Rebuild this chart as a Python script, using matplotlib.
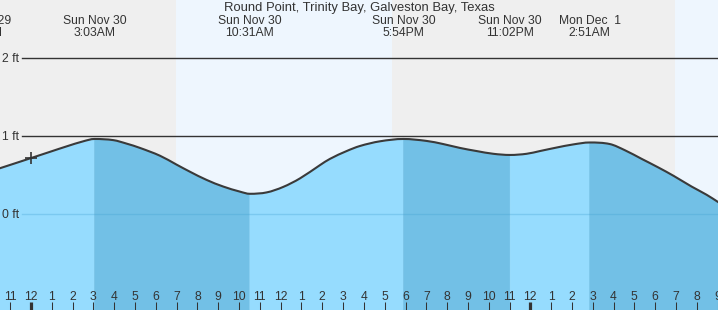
import numpy as np
import matplotlib
matplotlib.use("Agg")
import matplotlib.pyplot as plt
import matplotlib.transforms as mtransforms
from matplotlib.path import Path
from matplotlib.patches import PathPatch

plt.rcParams['font.family'] = ['Liberation Sans', 'DejaVu Sans']

# ---- data (hours since midnight, Sun Nov 30) ----
tide_hours = [-1.55, -0.8, 0.0, 0.91, 1.71, 2.51, 3.05, 3.96, 4.6, 5.24, 6.2, 6.97,
              7.64, 8.44, 9.24, 10.04, 10.52, 11.33, 12.12, 12.93, 13.89, 14.37,
              15.17, 15.81, 16.77, 17.9, 19.01, 19.81, 20.62, 21.42, 22.22, 23.03,
              23.82, 24.46, 25.26, 26.06, 26.85, 27.82, 28.55, 29.35, 30.15, 30.9,
              31.75, 32.47, 33.05]
tide_ft = [0.585, 0.65, 0.72, 0.80, 0.87, 0.935, 0.965, 0.95, 0.905, 0.85, 0.75, 0.64,
           0.545, 0.44, 0.355, 0.29, 0.262, 0.28, 0.35, 0.46, 0.63, 0.71,
           0.81, 0.875, 0.935, 0.965, 0.94, 0.90, 0.85, 0.81, 0.775, 0.76,
           0.775, 0.81, 0.855, 0.895, 0.92, 0.90, 0.82, 0.71, 0.60, 0.49,
           0.355, 0.25, 0.152]

extreme_hours = [-2.4, 3.05, 10.52, 17.9, 23.03, 26.85]
extreme_dates = ["Sat Nov 29", "Sun Nov 30", "Sun Nov 30", "Sun Nov 30", "Sun Nov 30", "Mon Dec  1"]
extreme_times = ["9:36PM", "3:03AM", "10:31AM", "5:54PM", "11:02PM", "2:51AM"]

daylight = [(6.97, 17.35), (30.95, 34.0)]
now_hour = 0.0
now_ft = 0.72

y_levels = [0, 1, 2]
y_labels = ["0 ft", "1 ft", "2 ft"]

tick_hours = list(range(-1, 34))
title = "Round Point, Trinity Bay, Galveston Bay, Texas"

# ---- style ----
W, H = 718, 310
GRAY_BG = '#efefef'
DAY_BG = '#eef6fe'
LIGHT = '#96dcfe'
DARK = '#72c0e6'
TXT = '#333333'
FS = 8.7

fig = plt.figure(figsize=(W / 100, H / 100), dpi=100)
ax = fig.add_axes([0, 0, 1, 1])
x0, x1 = -1.49, 33.02
y0, y1 = -1.228, 2.747
ax.set_xlim(x0, x1)
ax.set_ylim(y0, y1)
ax.set_facecolor(GRAY_BG)
for s in ax.spines.values():
    s.set_visible(False)

for a, b in daylight:
    ax.axvspan(a, b, color=DAY_BG, lw=0, zorder=0)

t = np.array(tide_hours)
v = np.array(tide_ft)
n = len(t)

# tangents for a smooth (Hermite) rendering through the read points
m = np.zeros(n)
for i in range(n):
    if i == 0:
        m[i] = (v[1] - v[0]) / (t[1] - t[0])
    elif i == n - 1:
        m[i] = (v[-1] - v[-2]) / (t[-1] - t[-2])
    else:
        m[i] = (v[i + 1] - v[i - 1]) / (t[i + 1] - t[i - 1])
    if any(abs(t[i] - e) < 1e-9 for e in extreme_hours):
        m[i] = 0.0


def curve_verts(ia, ib):
    verts = [(t[ia], v[ia])]
    codes = [Path.MOVETO]
    for i in range(ia, ib):
        dt = t[i + 1] - t[i]
        verts += [(t[i] + dt / 3, v[i] + m[i] * dt / 3),
                  (t[i + 1] - dt / 3, v[i + 1] - m[i + 1] * dt / 3),
                  (t[i + 1], v[i + 1])]
        codes += [Path.CURVE4] * 3
    return verts, codes


# fill segments between extremes: rising = light, falling = dark
idx_bounds = [0] + [int(np.argmin(np.abs(t - e))) for e in extreme_hours if t[0] < e < t[-1]] + [n - 1]
for k in range(len(idx_bounds) - 1):
    ia, ib = idx_bounds[k], idx_bounds[k + 1]
    col = LIGHT if v[ib] > v[ia] else DARK
    verts, codes = curve_verts(ia, ib)
    verts += [(t[ib], y0), (t[ia], y0), (t[ia], v[ia])]
    codes += [Path.LINETO, Path.LINETO, Path.CLOSEPOLY]
    ax.add_patch(PathPatch(Path(verts, codes), facecolor=col, edgecolor=col,
                           lw=0.4, zorder=1))

ax.axhline(0, xmin=22 / W, color='#3f9fd0', alpha=0.3, lw=1.0, zorder=2)
for y in [1, 2]:
    ax.axhline(y, xmin=22 / W, color=TXT, lw=1.0, zorder=2)

verts, codes = curve_verts(0, n - 1)
ax.add_patch(PathPatch(Path(verts, codes), facecolor='none', edgecolor='#3a3a3a',
                       lw=1.5, zorder=3))
ax.plot([now_hour], [now_ft], marker='+', color='#333333', ms=9, mew=1.2, zorder=4)

# y labels
off = mtransforms.offset_copy(ax.transData, fig=fig, x=0, y=-3.8 * 0.72, units='points')
ytrans = mtransforms.blended_transform_factory(ax.transAxes, off)
for yv, lab in zip(y_levels, y_labels):
    ax.text(2.5 / W, yv, lab, transform=ytrans, ha='left', va='baseline',
            fontsize=FS, color=TXT, zorder=5)

# x ticks
ax.set_yticks([])
ax.set_xticks(tick_hours)
ax.tick_params(axis='x', direction='in', length=5.8, width=0.75, colors=TXT,
               labelbottom=False)
for tk, h in zip(ax.xaxis.get_major_ticks(), tick_hours):
    if h % 24 == 0:
        tk.tick1line.set_markeredgewidth(2.3)
xtrans = mtransforms.blended_transform_factory(ax.transData, ax.transAxes)
for h in tick_hours:
    lab = str(h % 12 if h % 12 != 0 else 12)
    ax.text(h, 10 / H, lab, transform=xtrans, ha='center', va='baseline',
            fontsize=FS, color=TXT, zorder=5)

# top labels
fig.text(0.5, 1 - 11 / H, title, ha='center', va='baseline', fontsize=9.4, color=TXT)
for h, d, tm in zip(extreme_hours, extreme_dates, extreme_times):
    ax.text(h, 1 - 23.5 / H, d, transform=xtrans, ha='center', va='baseline',
            fontsize=FS, color=TXT, clip_on=False)
    ax.text(h, 1 - 35.5 / H, tm, transform=xtrans, ha='center', va='baseline',
            fontsize=FS, color=TXT, clip_on=False)

fig.savefig('out.png', dpi=100)
